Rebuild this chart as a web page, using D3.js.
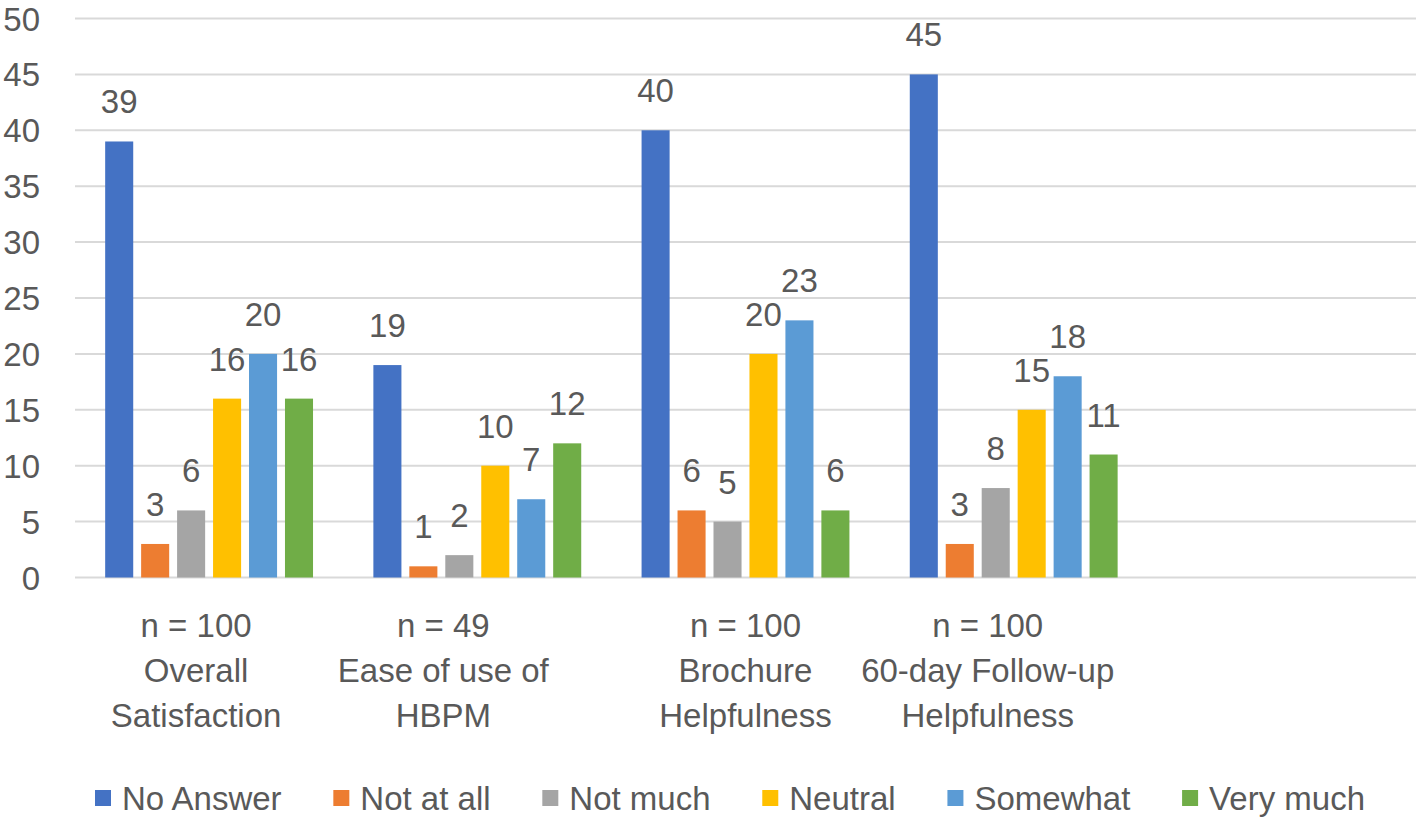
<!DOCTYPE html>
<html>
<head>
<meta charset="utf-8">
<script src="https://cdn.jsdelivr.net/npm/d3@7"></script>
<style>
  html, body { margin: 0; padding: 0; background: #ffffff; }
  svg { display: block; }
  text { font-family: "Liberation Sans", Arial, sans-serif; fill: #595959; }
</style>
</head>
<body>
<svg id="chart" width="1418" height="817"></svg>
<script>
// ---- data ----
const categories = ["Overall Satisfaction", "Ease of use of HBPM", "Brochure Helpfulness", "60-day Follow-up Helpfulness", ""];
const categoryLabelLines = [
  ["n = 100", "Overall", "Satisfaction"],
  ["n = 49", "Ease of use of", "HBPM"],
  ["n = 100", "Brochure", "Helpfulness"],
  ["n = 100", "60-day Follow-up", "Helpfulness"],
  []
];
const seriesNames = ["No Answer", "Not at all", "Not much", "Neutral", "Somewhat", "Very much"];
const noAnswer  = [39, 19, 40, 45, null];
const notAtAll  = [3, 1, 6, 3, null];
const notMuch   = [6, 2, 5, 8, null];
const neutral   = [16, 10, 20, 15, null];
const somewhat  = [20, 7, 23, 18, null];
const veryMuch  = [16, 12, 6, 11, null];
const yTicks = [0, 5, 10, 15, 20, 25, 30, 35, 40, 45, 50];

const seriesValues = [noAnswer, notAtAll, notMuch, neutral, somewhat, veryMuch];
const colors = ["#4472C4", "#ED7D31", "#A5A5A5", "#FFC000", "#5B9BD5", "#70AD47"];

// ---- layout ----
const svg = d3.select("#chart");
const plotLeft = 75, plotRight = 1416, plotTop = 18.5, plotBottom = 577.5;
const fontSize = 33;
const labelOffsets = [-13, -34, 0, -26, 0]; // horizontal nudges of category label blocks

const x0 = d3.scaleBand().domain(d3.range(categories.length))
  .range([plotLeft, plotRight]).paddingInner(0.225).paddingOuter(0.1125);
const x1 = d3.scaleBand().domain(d3.range(seriesNames.length))
  .range([0, x0.bandwidth()]).paddingInner(0.22).paddingOuter(0);
const y = d3.scaleLinear().domain([0, 50]).range([plotBottom, plotTop]);

// gridlines
svg.append("g").selectAll("line").data(yTicks).join("line")
  .attr("x1", plotLeft).attr("x2", plotRight)
  .attr("y1", d => y(d)).attr("y2", d => y(d))
  .attr("stroke", "#d9d9d9").attr("stroke-width", 2);

// y axis labels
const yAxis = d3.axisLeft(y).tickValues(yTicks).tickSize(0).tickPadding(0);
const yg = svg.append("g").attr("transform", "translate(40,0)").call(yAxis);
yg.select(".domain").remove();
yg.selectAll("text").attr("fill", "#595959").style("fill", "#595959")
  .attr("font-size", fontSize).attr("font-family", "Liberation Sans, Arial, sans-serif")
  .attr("x", 0).attr("dy", "0.35em").attr("text-anchor", "end");

// bars
const rows = [];
categories.forEach((c, ci) => {
  seriesValues.forEach((vals, si) => {
    const v = vals[ci];
    if (v !== null && v !== undefined) rows.push({ ci, si, v });
  });
});

const barG = svg.append("g");
barG.selectAll("rect").data(rows).join("rect")
  .attr("x", d => x0(d.ci) + x1(d.si))
  .attr("width", x1.bandwidth())
  .attr("y", d => y(d.v))
  .attr("height", d => y(0) - y(d.v))
  .attr("fill", d => colors[d.si]);

// value labels
svg.append("g").selectAll("text").data(rows).join("text")
  .attr("x", d => x0(d.ci) + x1(d.si) + x1.bandwidth() / 2)
  .attr("y", d => y(d.v) - 28)
  .attr("text-anchor", "middle")
  .attr("font-size", fontSize)
  .text(d => d.v);

// category labels
const catG = svg.append("g");
categoryLabelLines.forEach((lines, ci) => {
  const cx = x0(ci) + x0.bandwidth() / 2 + labelOffsets[ci];
  lines.forEach((ln, li) => {
    catG.append("text")
      .attr("x", cx)
      .attr("y", 637 + li * 45)
      .attr("text-anchor", "middle")
      .attr("font-size", fontSize)
      .text(ln);
  });
});

// legend
const legG = svg.append("g");
const sq = 16, sqGap = 11;
const items = seriesNames.map((name, i) => {
  const g = legG.append("g");
  g.append("rect").attr("width", sq).attr("height", sq).attr("y", -sq / 2).attr("fill", colors[i]);
  const t = g.append("text").attr("x", sq + sqGap).attr("dy", "0.36em")
    .attr("font-size", fontSize).text(name);
  return { g, w: sq + sqGap + t.node().getComputedTextLength() };
});
const legStart = 95, legEnd = 1365;
const totalW = d3.sum(items, d => d.w);
const gap = (legEnd - legStart - totalW) / (items.length - 1);
let cx = legStart;
items.forEach(it => {
  it.g.attr("transform", `translate(${cx},798)`);
  cx += it.w + gap;
});
</script>
</body>
</html>
